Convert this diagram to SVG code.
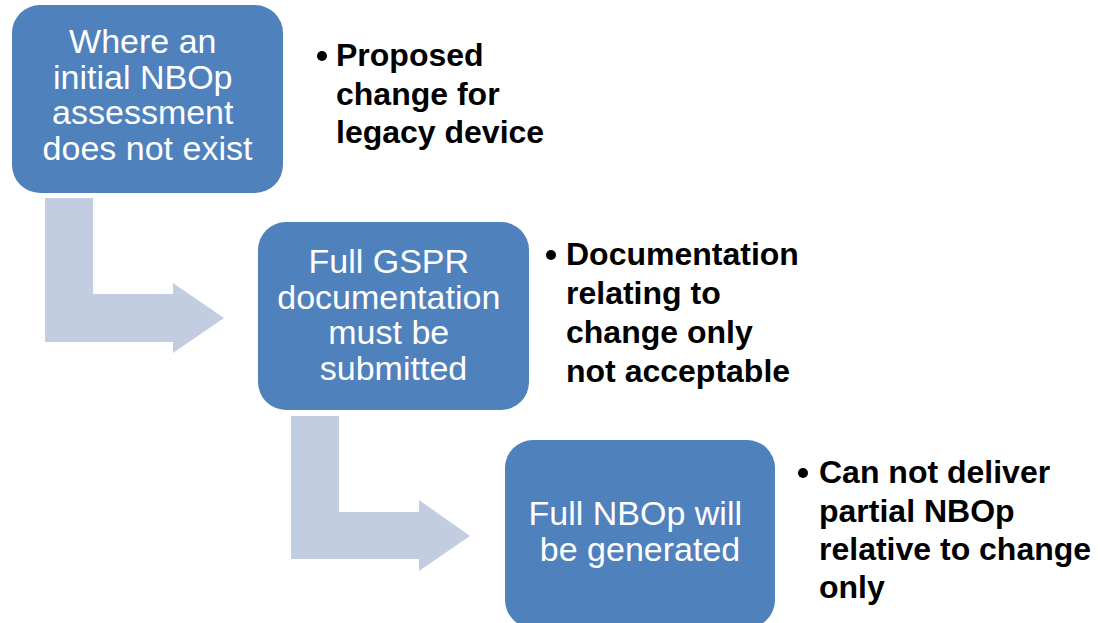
<svg xmlns="http://www.w3.org/2000/svg" width="1100" height="623" viewBox="0 0 1100 623">
  <style>
    .box { fill: #4F81BD; }
    .bend { fill: #C3CDE1; }
    .boxtext { font-family: "Liberation Sans", Arial, sans-serif; font-size: 34px; fill: #FFFFFF; text-anchor: middle; }
    .note { font-family: "Liberation Sans", Arial, sans-serif; font-weight: bold; font-size: 32px; fill: #000000; }
    .dot { fill: #000000; }
  </style>
  <rect width="1100" height="623" fill="#FFFFFF"/>

  <!-- bent-up arrows between steps -->
  <g id="connectors">
    <path class="bend" d="M45,198 H93 V294 H173 V283 L224,318 L173,353 V342 H45 Z"/>
    <path class="bend" d="M291,416 H339 V512 H419 V500 L470,536 L419,571 V559 H291 Z"/>
  </g>

  <g id="step1">
    <rect class="box" x="12" y="5" width="271" height="188" rx="28" ry="28"/>
    <text class="boxtext">
      <tspan x="147.5" y="53">Where an</tspan>
      <tspan x="147.5" y="88.5">initial NBOp</tspan>
      <tspan x="147.5" y="124">assessment</tspan>
      <tspan x="147.5" y="159.5">does not exist</tspan>
    </text>
  </g>

  <g id="note1">
    <circle class="dot" cx="322" cy="56" r="5"/>
    <text class="note">
      <tspan x="336" y="66">Proposed</tspan>
      <tspan x="336" y="105">change for</tspan>
      <tspan x="336" y="143">legacy device</tspan>
    </text>
  </g>

  <g id="step2">
    <rect class="box" x="258" y="222" width="271" height="188" rx="28" ry="28"/>
    <text class="boxtext">
      <tspan x="393.5" y="273">Full GSPR</tspan>
      <tspan x="393.5" y="308.5">documentation</tspan>
      <tspan x="393.5" y="344">must be</tspan>
      <tspan x="393.5" y="379.5">submitted</tspan>
    </text>
  </g>

  <g id="note2">
    <circle class="dot" cx="551" cy="255" r="5"/>
    <text class="note">
      <tspan x="566" y="265">Documentation</tspan>
      <tspan x="566" y="304">relating to</tspan>
      <tspan x="566" y="343">change only</tspan>
      <tspan x="566" y="382">not acceptable</tspan>
    </text>
  </g>

  <g id="step3">
    <rect class="box" x="505" y="440" width="270" height="188" rx="28" ry="28"/>
    <text class="boxtext">
      <tspan x="640" y="525">Full NBOp will</tspan>
      <tspan x="640" y="560.5">be generated</tspan>
    </text>
  </g>

  <g id="note3">
    <circle class="dot" cx="803" cy="473" r="5"/>
    <text class="note">
      <tspan x="819" y="483">Can not deliver</tspan>
      <tspan x="819" y="522">partial NBOp</tspan>
      <tspan x="819" y="560">relative to change</tspan>
      <tspan x="819" y="598">only</tspan>
    </text>
  </g>
</svg>
